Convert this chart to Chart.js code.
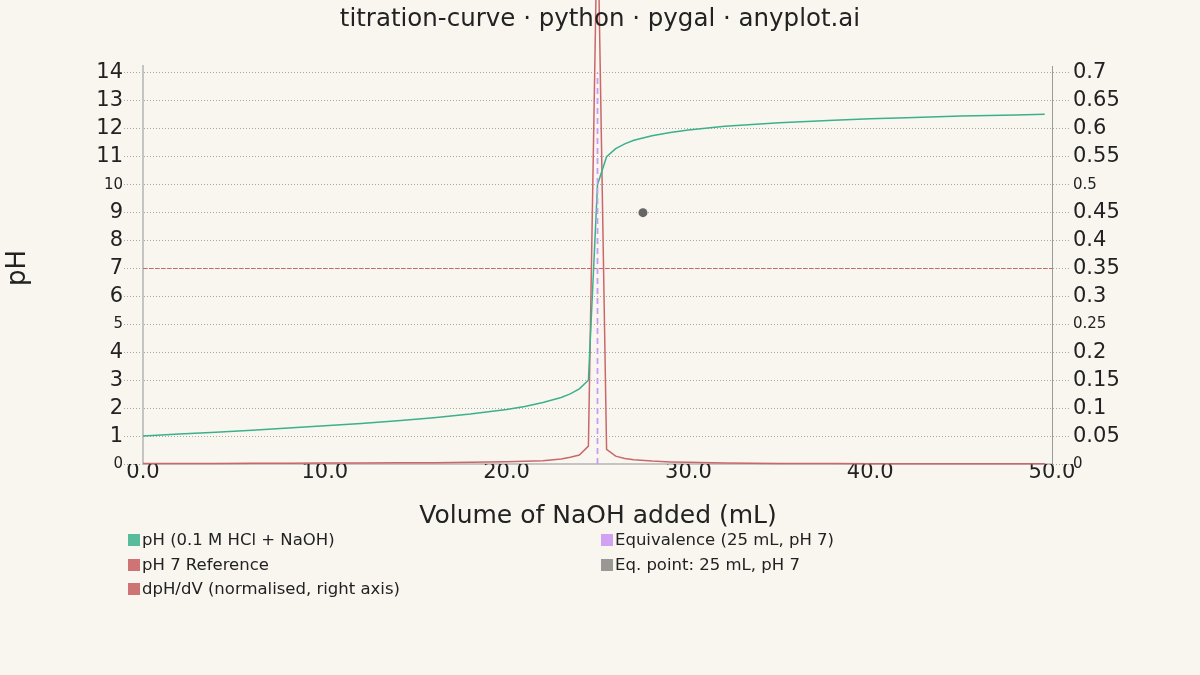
<!DOCTYPE html>
<html>
<head>
<meta charset="utf-8">
<script src="https://cdn.jsdelivr.net/npm/chart.js@4.4.1/dist/chart.umd.min.js"></script>
<style>
  html, body { margin: 0; padding: 0; background: #f9f6f0; }
  canvas { display: block; }
</style>
</head>
<body>
<canvas id="chart" width="1200" height="675"></canvas>
<script>
// titration data
const volume = [0, 2, 4, 6, 8, 10, 12, 14, 16, 18, 19, 20, 21, 22, 23, 23.5, 24, 24.5, 25, 25.5,
  26, 26.5, 27, 28, 29, 30, 32, 35, 38, 40, 42, 45, 48, 49.6];
const phValues = [1.00, 1.07, 1.14, 1.21, 1.29, 1.37, 1.45, 1.55, 1.66, 1.79, 1.87, 1.95, 2.06, 2.20, 2.38, 2.51, 2.69, 3.00, 10.0, 11.00,
  11.29, 11.46, 11.59, 11.75, 11.87, 11.96, 12.09, 12.22, 12.31, 12.36, 12.40, 12.46, 12.50, 12.52];
const derivValues = [0.001, 0.001, 0.0011, 0.0012, 0.0014, 0.0016, 0.0018, 0.0021, 0.0024, 0.003,
  0.0034, 0.004, 0.0048, 0.006, 0.009, 0.012, 0.016, 0.032, 1.0, 0.026,
  0.014, 0.010, 0.0075, 0.0052, 0.0038, 0.003, 0.0019, 0.0011, 0.0008, 0.0006, 0.0005, 0.0004, 0.0003, 0.0003];

const refX = [0, 50];
const refY = [7, 7];
const eqLineX = [25, 25];
const eqLineY = [0, 14];
const eqPointX = [27.5];
const eqPointY = [9];

const xTicks = [0, 10, 20, 30, 40, 50];
const leftTicks = [0, 1, 2, 3, 4, 5, 6, 7, 8, 9, 10, 11, 12, 13, 14];
const leftMajor = [0, 5, 10];
const rightTicks = [0, 0.05, 0.1, 0.15, 0.2, 0.25, 0.3, 0.35, 0.4, 0.45, 0.5, 0.55, 0.6, 0.65, 0.7];
const rightMajor = [0, 0.25, 0.5];

const FONT = "'DejaVu Sans', sans-serif";
const GREEN = '#3bb08c';
const RED = '#c9676a';
const PURPLE = '#c79cf4';
const GREY_DOT = '#666666';
const GRID = '#a8a8a8';
const AXIS = '#c4c4c4';

const toPoints = (xs, ys) => xs.map((x, i) => ({ x: x, y: ys[i] }));
const isIn = (list, v) => list.some(m => Math.abs(m - v) < 1e-9);

// titles + two-column legend like pygal
const textPlugin = {
  id: 'texts',
  afterDraw(chart) {
    const ctx = chart.ctx;
    ctx.save();
    ctx.fillStyle = '#222';
    ctx.textAlign = 'center';
    ctx.textBaseline = 'middle';
    ctx.font = '24.5px ' + FONT;
    ctx.fillText('titration-curve · python · pygal · anyplot.ai', 600, 20);

    ctx.font = '25px ' + FONT;
    ctx.fillText('Volume of NaOH added (mL)', 598, 516);

    ctx.save();
    ctx.translate(18, 268);
    ctx.rotate(-Math.PI / 2);
    ctx.font = '26px ' + FONT;
    ctx.fillText('pH', 0, 0);
    ctx.restore();

    // legend
    ctx.font = '16.5px ' + FONT;
    ctx.textAlign = 'left';
    const sets = chart.data.datasets;
    const cols = [128, 601];
    const rows = [540, 565, 589];
    sets.forEach((ds, i) => {
      const col = i < 3 ? 0 : 1;
      const row = i < 3 ? i : i - 3;
      const x = cols[col];
      const y = rows[row];
      ctx.fillStyle = ds.legendColor;
      ctx.globalAlpha = 0.9;
      ctx.fillRect(x, y - 6, 12, 12);
      ctx.globalAlpha = 1;
      ctx.fillStyle = '#222';
      ctx.fillText(ds.label, x + 14, y + 1);
    });
    ctx.restore();
  }
};

const tickFont = (major) => (c) => ({
  family: FONT,
  size: c.tick && isIn(major, c.tick.value) ? 15 : 21
});

new Chart(document.getElementById('chart'), {
  type: 'line',
  data: {
    datasets: [
      {
        label: 'pH (0.1 M HCl + NaOH)',
        data: toPoints(volume, phValues),
        yAxisID: 'y',
        borderColor: GREEN,
        legendColor: '#46b592',
        borderWidth: 1.5,
        pointRadius: 0
      },
      {
        label: 'pH 7 Reference',
        data: toPoints(refX, refY),
        yAxisID: 'y',
        borderColor: RED,
        legendColor: '#c96666',
        borderWidth: 1,
        borderDash: [4, 2],
        pointRadius: 0
      },
      {
        label: 'dpH/dV (normalised, right axis)',
        data: toPoints(volume, derivValues),
        yAxisID: 'y2',
        borderColor: RED,
        legendColor: '#c96666',
        borderWidth: 1.5,
        pointRadius: 0,
        clip: false
      },
      {
        label: 'Equivalence (25 mL, pH 7)',
        data: toPoints(eqLineX, eqLineY),
        yAxisID: 'y',
        order: -1,
        borderColor: PURPLE,
        legendColor: '#cc99f2',
        borderWidth: 1.8,
        borderDash: [6, 4],
        pointRadius: 0
      },
      {
        label: 'Eq. point: 25 mL, pH 7',
        data: toPoints(eqPointX, eqPointY),
        yAxisID: 'y',
        showLine: false,
        borderColor: GREY_DOT,
        backgroundColor: GREY_DOT,
        legendColor: '#8e8e8a',
        pointRadius: 4.5,
        pointBorderWidth: 0
      }
    ]
  },
  options: {
    responsive: false,
    animation: false,
    devicePixelRatio: 1,
    layout: { padding: { top: 66, left: 0, right: 0, bottom: 0 } },
    plugins: {
      legend: { display: false },
      title: { display: false },
      tooltip: { enabled: false }
    },
    scales: {
      x: {
        type: 'linear',
        min: 0,
        max: 50,
        afterBuildTicks: (s) => { s.ticks = xTicks.map(v => ({ value: v })); },
        afterFit: (s) => { s.height = 211; },
        ticks: {
          color: '#222',
          font: { family: FONT, size: 21 },
          padding: -4,
          maxRotation: 0,
          callback: (v) => Number(v).toFixed(1)
        },
        grid: { drawOnChartArea: false, drawTicks: false },
        border: { display: true, color: AXIS, width: 2 }
      },
      y: {
        position: 'left',
        min: 0,
        max: 14.25,
        afterBuildTicks: (s) => { s.ticks = leftTicks.map(v => ({ value: v })); },
        afterFit: (s) => { s.width = 143; },
        ticks: {
          color: '#222',
          font: tickFont(leftMajor),
          padding: 1,
          callback: (v) => String(v)
        },
        grid: {
          color: GRID,
          lineWidth: 1,
          tickLength: 19,
          tickColor: GRID,
          tickBorderDash: [1, 2]
        },
        border: { display: true, color: AXIS, width: 2, dash: [1, 2] }
      },
      y2: {
        position: 'right',
        min: 0,
        max: 0.7125,
        afterBuildTicks: (s) => { s.ticks = rightTicks.map(v => ({ value: v })); },
        afterFit: (s) => { s.width = 148; },
        ticks: {
          color: '#222',
          font: tickFont(rightMajor),
          padding: 3,
          callback: (v) => String(Math.round(v * 100) / 100)
        },
        grid: {
          drawOnChartArea: false,
          tickLength: 18,
          tickColor: GRID,
          tickBorderDash: [1, 2]
        },
        border: { display: true, color: '#9a9a9a', width: 1 }
      }
    }
  },
  plugins: [textPlugin]
});
</script>
</body>
</html>
